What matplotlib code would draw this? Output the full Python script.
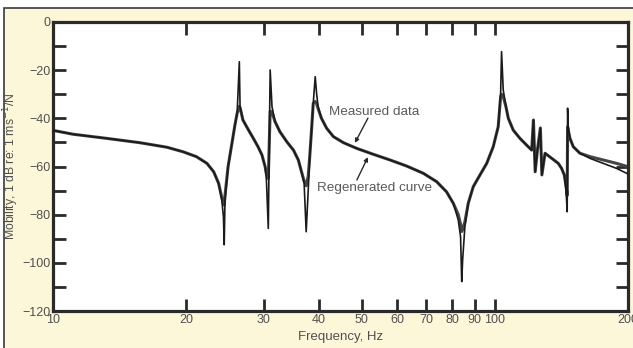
import matplotlib
matplotlib.use("Agg")
import matplotlib.pyplot as plt
from matplotlib.patches import Rectangle
from matplotlib.ticker import FixedLocator, FixedFormatter, NullLocator

# Frequency points (Hz)
freq = [10.0, 11.1, 13.2, 15.7, 18.1, 19.7, 21.1, 22.3, 23.1, 23.7, 24.1, 24.3, 24.4,
        24.5, 24.9, 25.4, 25.8, 26.1, 26.4, 26.5, 26.9, 27.7, 28.4, 29.1, 29.7, 30.2,
        30.4, 30.7, 31.0, 31.3, 31.8, 32.6, 33.8, 35.0, 35.9, 36.5, 37.0, 37.4, 37.8,
        38.1, 38.5, 38.8, 39.2, 39.5, 39.8, 40.5, 41.6, 43.1, 45.4, 48.7, 53.0, 57.9,
        63.1, 68.8, 73.8, 77.7, 80.5, 82.6, 83.6, 84.1, 84.5, 85.5, 87.0, 89.3, 92.5,
        95.8, 99.1, 101.7, 103.0, 103.5, 104.4, 105.9, 107.2, 110.0, 113.9, 117.9,
        121.1, 122.2, 123.3, 124.8, 126.7, 127.7, 129.8, 134.4, 139.1, 141.5, 143.5,
        144.8, 145.7, 146.0, 146.5, 147.8, 150.4, 155.7, 164.0, 175.8, 188.5, 200.0]

# Regenerated curve (dB)
regenerated = [-45.0, -46.6, -48.3, -50.1, -52.0, -53.9, -55.9, -58.7, -62.2, -67.0, -73.9, -80.9, -92.5,
               -74.0, -60.0, -50.4, -42.8, -37.9, -16.5, -35.2, -40.7, -44.9, -48.3, -51.8, -55.2, -60.1,
               -65.6, -85.7, -19.9, -35.2, -41.4, -45.5, -49.7, -53.2, -57.3, -62.2, -67.0, -87.1, -69.8,
               -55.9, -43.5, -33.8, -22.7, -30.0, -35.2, -40.0, -44.1, -47.6, -50.1, -52.5, -54.9, -57.3,
               -59.8, -62.8, -66.3, -70.5, -75.3, -82.2, -89.2, -107.8, -98.8, -85.0, -75.3, -68.4, -63.5,
               -58.7, -51.8, -43.5, -29.6, -12.3, -28.2, -35.2, -40.0, -44.9, -48.3, -51.1,
               -53.2, -40.7, -62.2, -53.0, -44.0, -63.5, -54.5, -56.6, -58.7, -60.8, -63.5,
               -69.8, -78.8, -35.8, -43.5, -48.3, -51.8, -54.5, -56.6, -58.7, -60.8, -63.1]

# Measured data (dB)
measured = [-45.0, -46.6, -48.3, -50.1, -52.0, -53.9, -55.9, -58.7, -62.2, -67.0, -73.0, -75.5, -76.0,
            -72.0, -60.0, -50.4, -42.8, -37.9, -35.0, -35.5, -40.7, -44.9, -48.3, -51.8, -55.2, -60.1,
            -63.0, -65.0, -37.0, -37.5, -41.4, -45.5, -49.7, -53.2, -57.3, -62.2, -66.0, -68.0, -64.0,
            -55.9, -43.5, -33.8, -33.0, -34.0, -36.0, -40.0, -44.1, -47.6, -50.1, -52.5, -54.9, -57.3,
            -59.8, -62.8, -66.3, -70.5, -75.3, -80.0, -84.0, -87.0, -86.0, -83.0, -75.3, -68.4, -63.5,
            -58.7, -51.8, -43.5, -31.0, -30.0, -31.0, -35.2, -40.0, -44.9, -48.3, -51.1,
            -53.2, -40.7, -62.2, -53.0, -44.0, -63.5, -54.5, -56.6, -58.7, -60.8, -63.5,
            -68.0, -72.0, -43.5, -45.0, -48.3, -51.8, -54.5, -55.9, -57.3, -58.7, -60.1]

xticks = [10, 20, 30, 40, 50, 60, 70, 80, 90, 100, 200]
xticklabels = ["10", "20", "30", "40", "50", "60", "70", "80", "90", "100", "200"]
yticks_major = [0, -20, -40, -60, -80, -100, -120]
yticklabels = ["0", "\u221220", "\u221240", "\u221260", "\u221280", "\u2212100", "\u2212120"]
yticks_minor = [-10, -30, -50, -70, -90, -110]

plt.rcParams['font.family'] = ['Liberation Sans', 'DejaVu Sans']

W, H = 633, 348
fig = plt.figure(figsize=(W / 100, H / 100), dpi=100, facecolor='white')
bg = '#fdf7da'
fig.add_artist(Rectangle((4 / W, -0.1), 1.2, (H - 8) / H + 0.1, transform=fig.transFigure,
                         facecolor=bg, edgecolor='#3a3a3a', linewidth=1.2, zorder=0))

ax = fig.add_axes([53 / W, (H - 311) / H, (628 - 53) / W, (311 - 22) / H])
ax.set_facecolor('white')
ax.set_xscale('log')
ax.set_xlim(10, 200)
ax.set_ylim(-120, 0)

ax.plot(freq, measured, color='#454545', lw=2.2, solid_joinstyle='round', zorder=2)
ax.plot(freq, regenerated, color='#1a1a1a', lw=1.2, zorder=3)

ax.xaxis.set_major_locator(FixedLocator(xticks))
ax.xaxis.set_major_formatter(FixedFormatter(xticklabels))
ax.xaxis.set_minor_locator(NullLocator())
ax.yaxis.set_major_locator(FixedLocator(yticks_major))
ax.yaxis.set_major_formatter(FixedFormatter(yticklabels))
ax.yaxis.set_minor_locator(FixedLocator(yticks_minor))

ax.tick_params(axis='both', which='both', direction='in', top=True, right=True,
               color='#2a2a2a', width=2, labelcolor='#505050', labelsize=9)
ax.tick_params(axis='both', which='major', length=9, pad=2)
ax.tick_params(axis='y', which='minor', length=9)
for s in ax.spines.values():
    s.set_linewidth(2.3)
    s.set_color('#2a2a2a')

ax.set_xlabel('Frequency, Hz', fontsize=9.5, color='#505050', labelpad=4)
ax.set_ylabel('Mobility, 1 dB re: 1 ms$^{-1}$/N', fontsize=8.8, color='#505050')
ax.yaxis.set_label_coords(-0.056, 0.5)

arrow = dict(arrowstyle='-|>', color='#2a2a2a', lw=1.0, mutation_scale=6, shrinkA=0, shrinkB=0)
ax.text(53.2, -37.4, 'Measured data', fontsize=9.7, color='#5a5a5a', ha='center', va='center')
ax.annotate('', xy=(48.2, -50.2), xytext=(51.6, -39.9), arrowprops=arrow)
ax.text(53.4, -68.9, 'Regenerated curve', fontsize=9.7, color='#5a5a5a', ha='center', va='center')
ax.annotate('', xy=(51.6, -56.1), xytext=(48.7, -65.6), arrowprops=arrow)

fig.savefig('out.png', dpi=100, facecolor='white')
